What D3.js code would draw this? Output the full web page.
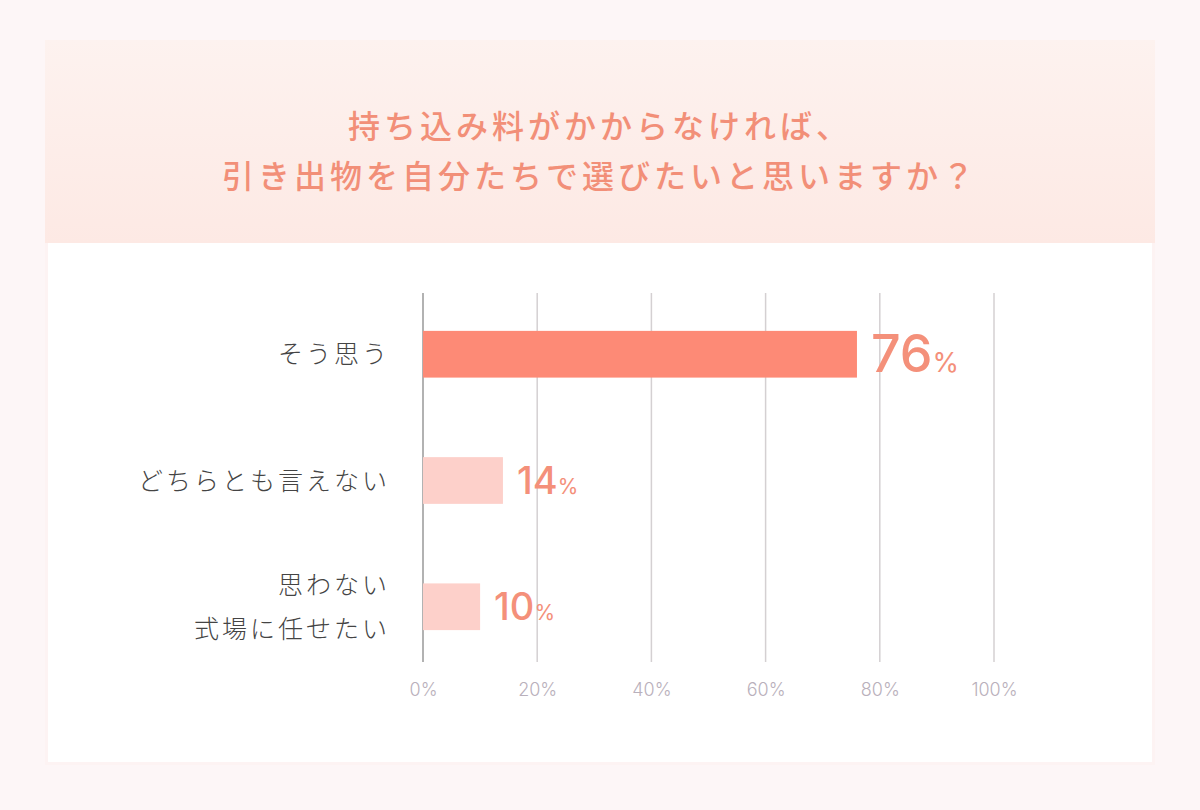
<!DOCTYPE html>
<html><head><meta charset="utf-8">
<script src="https://cdn.jsdelivr.net/npm/d3@7"></script>
<style>body{margin:0;background:#fdf6f7;}svg{display:block;font-family:"Noto Sans CJK JP","Noto Sans",sans-serif;}</style>
</head><body><svg id="c" width="1200" height="810"></svg>
<script>
const titleLines = ["持ち込み料がかからなければ、","引き出物を自分たちで選びたいと思いますか？"];
const categories = [["そう思う"],["どちらとも言えない"],["思わない","式場に任せたい"]];
const values = [76, 14, 10];
const barColors = ["#fd8a76", "#fdd0ca", "#fdd0ca"];
const ticks = [0, 20, 40, 60, 80, 100];

const svg = d3.select("#c");
const defs = svg.append("defs");
const g = defs.append("linearGradient").attr("id","hd").attr("x1",0).attr("y1",0).attr("x2",0).attr("y2",1);
g.append("stop").attr("offset","0%").attr("stop-color","#fdf2ef");
g.append("stop").attr("offset","100%").attr("stop-color","#fde9e4");
svg.append("rect").attr("x",45).attr("y",40).attr("width",1110).attr("height",725).attr("fill","#fdf3f3");
svg.append("rect").attr("x",45).attr("y",40).attr("width",1110).attr("height",203).attr("fill","url(#hd)");
svg.append("rect").attr("x",48).attr("y",243).attr("width",1104).attr("height",519).attr("fill","#ffffff");

svg.selectAll(".t").data(titleLines).join("text")
  .attr("x",600).attr("y",(d,i)=>138+i*50).attr("text-anchor","middle")
  .attr("font-size",32).attr("font-weight",500).attr("letter-spacing",4).attr("fill","#f28f78").text(d=>d);

const x = d3.scaleLinear().domain([0,100]).range([423,994]);
const y = d3.scaleBand().domain(d3.range(categories.length)).range([293,668]).paddingInner(0.63).paddingOuter(0.3);

svg.append("g").selectAll("line").data(ticks).join("line")
  .attr("x1",d=>x(d)).attr("x2",d=>x(d)).attr("y1",293).attr("y2",662)
  .attr("stroke",d=>d===0?"#999":"#d4d0d2").attr("stroke-width",1.5);

const axis = d3.axisBottom(x).tickValues(ticks).tickFormat(d=>d+"%").tickSize(0);
const ax = svg.append("g").attr("transform","translate(0,680)").call(axis);
ax.select(".domain").remove();
ax.selectAll("text").attr("font-size",18).attr("fill","#b9b0bb").attr("font-family","Inter,sans-serif").attr("font-weight",300);

svg.append("g").selectAll("rect").data(values).join("rect")
  .attr("x",x(0)).attr("y",(d,i)=>y(i)).attr("height",y.bandwidth())
  .attr("width",d=>x(d)-x(0)).attr("fill",(d,i)=>barColors[i]);

const lab = svg.append("g").selectAll("text").data(values).join("text")
  .attr("x",d=>x(d)+14).attr("y",(d,i)=>y(i)+y.bandwidth()/2+(i===0?18:13))
  .attr("fill","#f4907a").attr("font-family","Inter,sans-serif").attr("font-weight",500);
lab.append("tspan").attr("font-size",(d,i)=>i===0?52:38).text(d=>d);
lab.append("tspan").attr("font-size",(d,i)=>i===0?27:21).attr("font-weight",400).text("%");

categories.forEach((lines,i)=>{
  const cy = y(i)+y.bandwidth()/2;
  lines.forEach((t,j)=>{
    svg.append("text").attr("x",390).attr("y",cy+9+(j-(lines.length-1)/2)*44)
      .attr("text-anchor","end").attr("font-size",25).attr("font-weight",300).attr("fill","#444").attr("letter-spacing",3).text(t);
  });
});
</script></body></html>
